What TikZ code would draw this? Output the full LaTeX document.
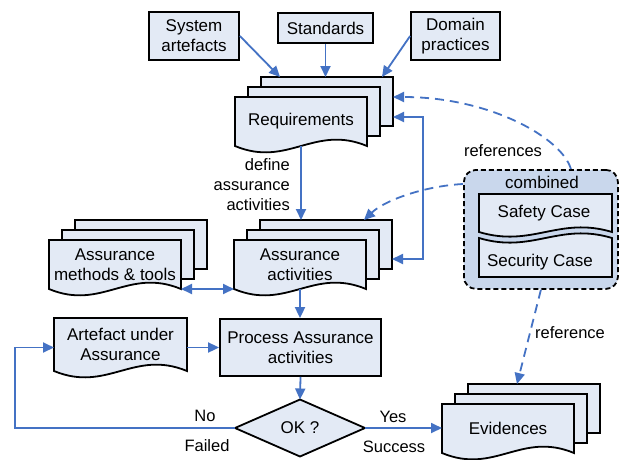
\documentclass[tikz,border=0pt]{standalone}
\usepackage{fontspec}
\setmainfont{Liberation Sans}
\usetikzlibrary{arrows.meta,calc}

\definecolor{flowblue}{RGB}{68,114,196}
\definecolor{pagefill}{RGB}{227,234,245}
\definecolor{groupfill}{RGB}{201,215,236}

\tikzset{
  >={Triangle[length=11pt,width=10pt]},
  outline/.style={draw=black, line width=1.8pt, fill=pagefill, line join=miter},
  txt/.style={align=center, font=\fontsize{17}{20}\selectfont},
  box/.style={outline, txt, inner sep=0pt},
  holder/.style={txt, inner sep=0pt, outer sep=0pt, anchor=north west},
  flow/.style={draw=flowblue, line width=1.8pt, ->},
  flowboth/.style={draw=flowblue, line width=1.8pt, <->},
  refer/.style={flow, dash pattern=on 9pt off 6pt},
  lbl/.style={font=\fontsize{16.5}{20}\selectfont, inner sep=0pt},
}

% plain page (rectangle) with a named holder node
\newcommand{\pagerect}[5]{%
  \path[outline] (#2,#3) rectangle ++(#4,#5);
  \node[holder, minimum width=#4pt, minimum height=#5pt] (#1) at (#2,#3) {};
}
% document page with a wavy bottom edge
\newcommand{\pagedoc}[6]{%
  \path[outline] (#2,#3) -- (#2+#4,#3) -- (#2+#4,#3+#5)
     .. controls (#2+0.6*#4,#3+#5-22) and (#2+0.4*#4,#3+#5+22) .. (#2,#3+#5) -- cycle;
  \node[holder, minimum width=#4pt, minimum height=#5pt] (#1) at (#2,#3) {#6};
}
% stack of three pages: #1c (back), #1b (middle), #1 (front)
\newcommand{\docstack}[6]{%
  \pagerect{#1c}{#2+26}{#3-20}{#4}{#5}
  \pagerect{#1b}{#2+13}{#3-10}{#4}{#5}
  \pagedoc{#1}{#2}{#3}{#4}{#5}{#6}
}

\begin{document}
\begin{tikzpicture}[x=1pt,y=-1pt]
\useasboundingbox (0,0) rectangle (619,459);
\fill[white] (0,0) rectangle (619,459);

% sources
\node[box, minimum width=90pt, minimum height=48pt] (sys) at (194,36) {System\\artefacts};
\node[box, minimum width=95pt, minimum height=30pt] (std) at (325.5,28) {Standards};
\node[box, minimum width=89pt, minimum height=48pt] (dom) at (455.5,36) {Domain\\practices};

% document stacks
\docstack{req}{235}{97}{132}{49}{Requirements}
\docstack{meth}{49}{240}{132}{49}{Assurance\\methods \& tools}
\docstack{act}{234}{240}{132}{49}{Assurance\\activities}
\docstack{evid}{442}{404}{132}{49}{Evidences}

% artefact and processing
\pagedoc{art}{54}{318}{133}{53}{Artefact under\\Assurance}
\node[box, minimum width=161pt, minimum height=57pt] (proc) at (300.5,347.5) {Process Assurance\\activities};

% decision
\path[outline] (235,428) -- (300,399.5) -- (365,428) -- (300,456.5) -- cycle;
\node[holder, minimum width=130pt, minimum height=57pt] (ok) at (235,399.5) {OK ?};

% combined assurance case
\node[draw=black, line width=1.8pt, dash pattern=on 5pt off 3pt, fill=groupfill,
      rounded corners=12pt, inner sep=0pt, minimum width=154pt, minimum height=119pt,
      anchor=north west] (comb) at (463,169) {};
\node[txt, inner sep=0pt] (combtxt) at (542,182) {combined};
\path[outline] (479,194) -- (612,194) -- (612,232)
   .. controls (479+0.6*133,232-16) and (479+0.4*133,232+16) .. (479,232) -- cycle;
\node[txt, inner sep=0pt] (safety) at (544,213) {Safety Case};
\path[outline] (479,238) .. controls (479+0.4*133,238+16) and (479+0.6*133,238-16) .. (612,238)
   -- (612,277) -- (479,277) -- cycle;
\node[txt, inner sep=0pt] (security) at (540,262) {Security Case};

% connectors
\draw[flow] (sys.east) -- ($(reqc.north west)+(19,0)$);
\draw[flow] (std.south) -- (std.south |- reqc.north);
\draw[flow] (dom.west) -- ($(reqc.north east)+(-11,0)$);
\draw[flow] (req.south) -- (req.south |- actc.north);
\node[lbl, anchor=east, align=right] (deflbl) at (290,185) {define\\assurance\\activities};
\draw[flowboth] ([yshift=9pt]reqc.south east) -- ++(30,0) |- ([yshift=10pt]actc.south east);
\draw[flowboth] (meth.south east) -- (act.south west);
\draw[flow] (act.south) -- (act.south |- proc.north);
\draw[flow] (art.east |- proc.west) -- (proc.west);
\draw[flow] (proc.south) -- (ok.north);
\draw[flow] (ok.east) -- (ok.east -| evid.west);
\draw[flow] (ok.west) -| ($(art.west |- proc.west)+(-39,0)$) -- (art.west |- proc.west);

\node[lbl] (nolbl) at (205,416) {No};
\node[lbl] (faillbl) at (207,446) {Failed};
\node[lbl] (yeslbl) at (393,417) {Yes};
\node[lbl] (succlbl) at (394,447) {Success};

% references from the combined case
\draw[refer] ([xshift=30pt]comb.north) .. controls (562,138) and (490,97) .. ([yshift=-20pt]reqc.north east);
\draw[refer] ([yshift=-15pt]comb.north west) .. controls (425,186) and (385,200) .. ([xshift=-28pt]actc.north east);
\draw[refer] (comb.south) -- ([xshift=-17pt]evidc.north);
\node[lbl] (reflbl) at (503,151) {references};
\node[lbl] (reflbl2) at (570,333) {reference};
\end{tikzpicture}
\end{document}
